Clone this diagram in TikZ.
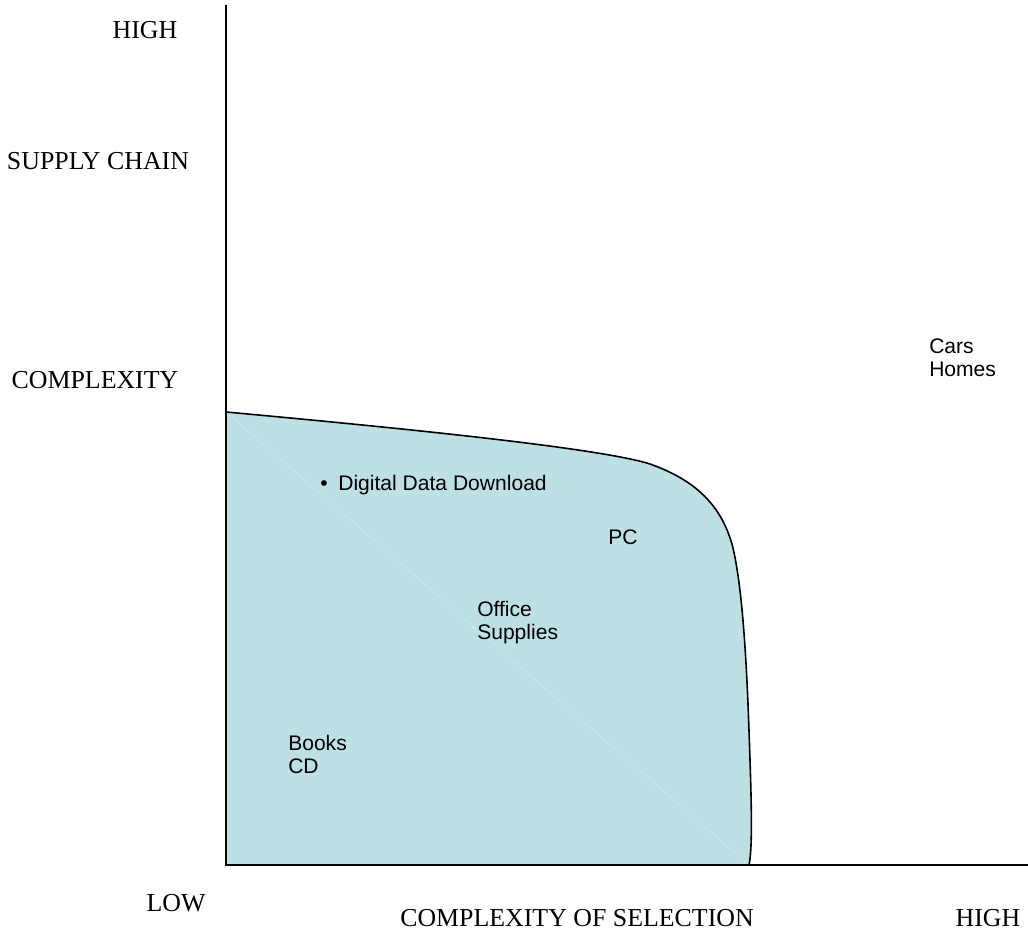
\documentclass[tikz,border=0pt]{standalone}
\usepackage{fontspec}
\setmainfont{Liberation Serif}
\newfontfamily\arial{Liberation Sans}
\begin{document}
\begin{tikzpicture}[x=0.75pt,y=-0.75pt,
  axislabel/.style={font=\fontsize{19.4}{22}\selectfont, inner sep=0pt},
  itemlabel/.style={font=\arial\fontsize{15.8}{17}\selectfont, inner sep=0pt, align=left},
  axisline/.style={line width=1.5pt, black},
  frontier/.style={line width=1.2pt, black}]
\definecolor{regionfill}{RGB}{188,224,228}
\definecolor{seam}{RGB}{212,236,239}
\useasboundingbox (0,0) rectangle (1028,934);

% axis end points
\coordinate (origin) at (226,865);
\coordinate (ytop) at (226,5);
\coordinate (xend) at (1028,865);
\coordinate (ystart) at (226,412);
\coordinate (xstart) at (749,865);

% shaded feasible region
\fill[regionfill] (ystart) .. controls (400,428) and (600,448) .. (650,464)
  .. controls (695,480) and (722,505) .. (733,548)
  .. controls (745,600) and (748,700) .. (750,760)
  .. controls (752,820) and (752,850) .. (xstart) -- (origin) -- cycle;
\draw[seam, line width=0.4pt] (ystart) -- (xstart);
\draw[frontier] (ystart) .. controls (400,428) and (600,448) .. (650,464)
  .. controls (695,480) and (722,505) .. (733,548)
  .. controls (745,600) and (748,700) .. (750,760)
  .. controls (752,820) and (752,850) .. (xstart);

% axes
\draw[axisline] (ytop) -- (origin) -- (xend);

% axis labels
\node[axislabel] (yhigh) at (145,30) {HIGH};
\node[axislabel] (ysupply) at (98,161) {SUPPLY CHAIN};
\node[axislabel] (ycomplex) at (95,380) {COMPLEXITY};
\node[axislabel] (xlow) at (176,903) {LOW};
\node[axislabel] (xtitle) at (577,918) {COMPLEXITY OF SELECTION};
\node[axislabel] (xhigh) at (988,918) {HIGH};

% products
\node[itemlabel, anchor=west] (digital) at (320,485) {\textbullet\hspace{8pt}Digital Data Download};
\node[itemlabel, anchor=west] (pc) at (608,537) {PC};
\node[itemlabel, anchor=north west] (office) at (477,601) {Office\\Supplies};
\node[itemlabel, anchor=north west] (books) at (288,735) {Books\\CD};
\node[itemlabel, anchor=north west] (cars) at (929,339) {Cars\\Homes};
\end{tikzpicture}
\end{document}
